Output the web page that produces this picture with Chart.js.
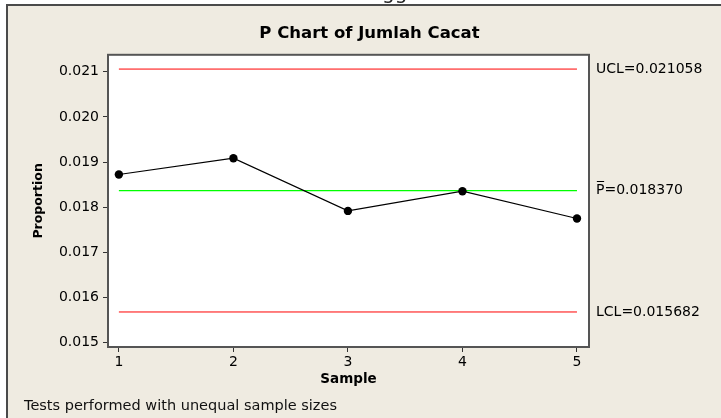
<!DOCTYPE html>
<html>
<head>
<meta charset="utf-8">
<title>P Chart of Jumlah Cacat</title>
<script src="https://cdn.jsdelivr.net/npm/chart.js@4.4.1/dist/chart.umd.min.js"></script>
<style>
  html, body { margin: 0; padding: 0; background: #fff; }
  #wrap { position: relative; width: 721px; height: 418px; overflow: hidden; }
  #chart { position: absolute; left: 0; top: 0; }
  #note {
    position: absolute; left: 24px; top: 397px;
    font: 14.5px "DejaVu Sans", sans-serif; line-height: 16px;
    color: #111; white-space: nowrap;
  }
  #cut { position: absolute; left: 382px; top: 0; width: 40px; height: 4px; overflow: hidden; }
  #cut span {
    position: absolute; left: 0; top: -18px;
    font: 20px "DejaVu Sans", sans-serif; line-height: 20px; color: #222;
  }
</style>
</head>
<body>
<div id="wrap">
  <canvas id="chart" width="721" height="418"></canvas>
  <div id="cut"><span>gg</span></div>
  <div id="note">Tests performed with unequal sample sizes</div>
</div>
<script>
// Sample numbers and the defect proportion of each sample
const samples = [1, 2, 3, 4, 5];
const proportions = [0.018725, 0.019086, 0.017919, 0.018355, 0.017751];

// Control limits and centre line
const UCL = 0.021058;
const CENTER = 0.018370;
const LCL = 0.015682;

// Tick values of the proportion axis
const yTicks = [0.015, 0.016, 0.017, 0.018, 0.019, 0.020, 0.021];

const FONT = '"DejaVu Sans", sans-serif';
Chart.defaults.font.family = FONT;
Chart.defaults.color = '#000';

const limitLabel = {};
limitLabel[UCL] = 'UCL=' + UCL.toFixed(6);
limitLabel[CENTER] = 'P\u0305=' + CENTER.toFixed(6);
limitLabel[LCL] = 'LCL=' + LCL.toFixed(6);

const Y_MIN = 0.014907, Y_MAX = 0.021374;
const X_MIN = 0.905, X_MAX = 5.105;

function flatLine(v) {
  return [{ x: samples[0], y: v }, { x: samples[samples.length - 1], y: v }];
}

// Panel background, outer frame and plot frame
const framePlugin = {
  id: 'frame',
  beforeDraw(chart) {
    const ctx = chart.ctx, a = chart.chartArea;
    ctx.save();
    ctx.fillStyle = '#ffffff';
    ctx.fillRect(0, 0, chart.width, chart.height);
    ctx.fillStyle = '#efebe1';
    ctx.fillRect(7, 4, chart.width - 7, chart.height - 4);
    ctx.fillStyle = '#4a4a4a';
    ctx.fillRect(6, 4, chart.width - 6, 2);
    ctx.fillRect(6, 4, 2, chart.height - 4);
    ctx.fillStyle = '#ffffff';
    ctx.fillRect(a.left, a.top, a.right - a.left, a.bottom - a.top);
    ctx.restore();
  },
  afterDraw(chart) {
    const ctx = chart.ctx, a = chart.chartArea;
    ctx.save();
    ctx.strokeStyle = '#555555';
    ctx.lineWidth = 2;
    ctx.strokeRect(a.left, a.top, a.right - a.left, a.bottom - a.top);
    ctx.restore();
  }
};

new Chart(document.getElementById('chart'), {
  type: 'line',
  data: {
    datasets: [
      {
        label: 'Proportion',
        data: samples.map((s, i) => ({ x: s, y: proportions[i] })),
        borderColor: '#000',
        borderWidth: 1.2,
        pointRadius: 4.2,
        pointBackgroundColor: '#000',
        pointBorderWidth: 0,
        tension: 0,
        order: 0
      },
      {
        label: 'UCL',
        data: flatLine(UCL),
        borderColor: '#ff0000',
        borderWidth: 1,
        pointRadius: 0,
        order: 1
      },
      {
        label: 'Center',
        data: flatLine(CENTER),
        borderColor: '#00ff00',
        borderWidth: 1.3,
        pointRadius: 0,
        order: 1
      },
      {
        label: 'LCL',
        data: flatLine(LCL),
        borderColor: '#ff0000',
        borderWidth: 1,
        pointRadius: 0,
        order: 1
      }
    ]
  },
  options: {
    responsive: false,
    animation: false,
    devicePixelRatio: 1,
    layout: { padding: { left: 18, right: 0, top: 4, bottom: 0 } },
    plugins: {
      legend: { display: false },
      tooltip: { enabled: false },
      title: {
        display: true,
        text: 'P Chart of Jumlah Cacat',
        color: '#000',
        font: { family: FONT, size: 16.5, weight: 'bold' },
        padding: { top: 20, bottom: 11 }
      }
    },
    scales: {
      x: {
        type: 'linear',
        position: 'bottom',
        min: X_MIN,
        max: X_MAX,
        afterBuildTicks: s => { s.ticks = samples.map(v => ({ value: v })); },
        afterFit: s => { s.height = 71; },
        ticks: {
          autoSkip: false, maxRotation: 0, padding: 2,
          font: { size: 14 }, color: '#000',
          callback: v => String(v)
        },
        grid: { drawOnChartArea: false, drawTicks: true, tickLength: 5, color: '#333', lineWidth: 1 },
        border: { display: false },
        title: {
          display: true, text: 'Sample', color: '#000',
          font: { family: FONT, size: 13.5, weight: 'bold' },
          padding: { top: 0, bottom: 30 }
        }
      },
      y: {
        type: 'linear',
        position: 'left',
        min: Y_MIN,
        max: Y_MAX,
        afterBuildTicks: s => { s.ticks = yTicks.map(v => ({ value: v })); },
        afterFit: s => { s.width = 90; },
        ticks: {
          autoSkip: false, padding: 4,
          font: { size: 14 }, color: '#000',
          callback: v => v.toFixed(3)
        },
        grid: { drawOnChartArea: false, drawTicks: true, tickLength: 5, color: '#333', lineWidth: 1 },
        border: { display: false },
        title: {
          display: true, text: 'Proportion', color: '#000',
          font: { family: FONT, size: 12.5, weight: 'bold' },
          padding: { top: 13, bottom: 0 }
        }
      },
      limits: {
        type: 'linear',
        position: 'right',
        min: Y_MIN,
        max: Y_MAX,
        afterBuildTicks: s => { s.ticks = [LCL, CENTER, UCL].map(v => ({ value: v })); },
        afterFit: s => { s.width = 132; },
        ticks: {
          autoSkip: false, padding: 7,
          font: { size: 14 }, color: '#000',
          callback: v => limitLabel[v]
        },
        grid: { display: false, drawTicks: false },
        border: { display: false }
      }
    }
  },
  plugins: [framePlugin]
});
</script>
</body>
</html>
